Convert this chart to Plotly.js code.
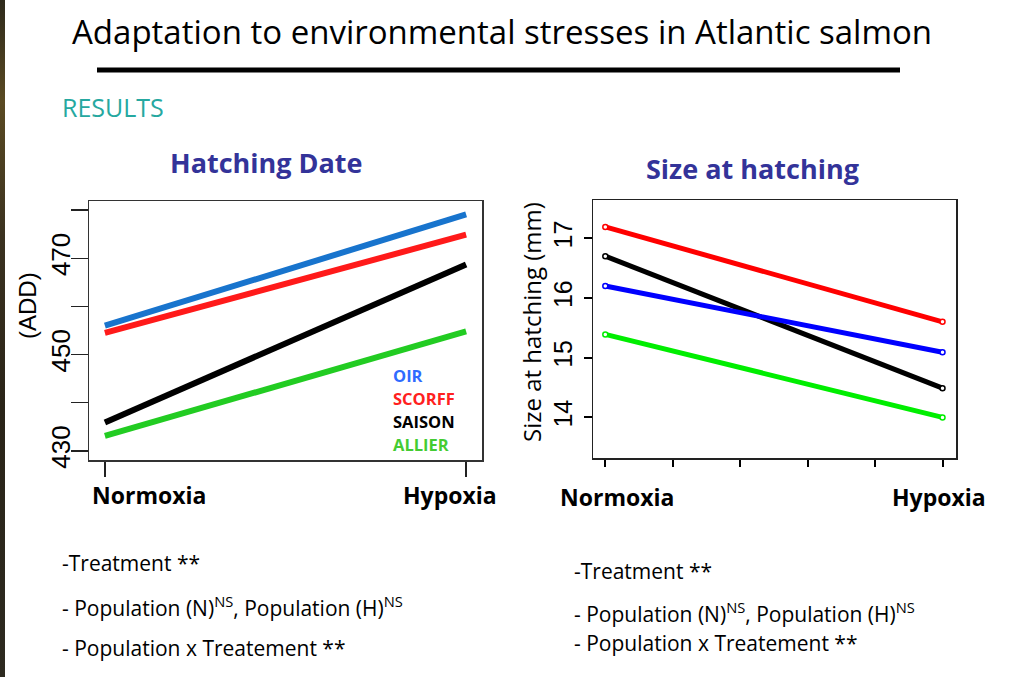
<!DOCTYPE html>
<html>
<head>
<meta charset="utf-8">
<script src="https://cdn.plot.ly/plotly-3.0.1.min.js"></script>
<style>
  html, body { margin: 0; padding: 0; background: #fff; }
  #chart { width: 1009px; height: 677px; }
  #strip { position: absolute; left: 0; top: 0; width: 5px; height: 677px;
    background: linear-gradient(to bottom, #2e2a1c 0%, #5a4a22 15%, #3b3220 35%, #2a2418 60%, #2d2a20 100%); }
</style>
</head>
<body>
<div id="chart"></div>
<div id="strip"></div>
<script>
// ---- data ----
const treatments = ['Normoxia', 'Hypoxia'];
const treatmentX = [1, 2];
const populations = ['OIR', 'SCORFF', 'SAISON', 'ALLIER'];

const hatchOIR    = [456.0, 479.1];
const hatchSCORFF = [454.5, 474.9];
const hatchSAISON = [435.9, 468.7];
const hatchALLIER = [433.1, 454.8];

const sizeSCORFF = [17.19, 15.60];
const sizeSAISON = [16.70, 14.49];
const sizeOIR    = [16.20, 15.09];
const sizeALLIER = [15.39, 14.00];

const hatchTicks = [430, 450, 470];
const hatchMinorTicks = [440, 460, 480];
const sizeTicks = [14, 15, 16, 17];

// ---- styles ----
const W = 1009, H = 677;
const px = v => v / W;
const py = v => 1 - v / H;
const comic = '"Comic Sans MS", "Open Sans", sans-serif';
const arial = 'Liberation Sans, Arial, sans-serif';

const leftColors = { OIR: '#1874cd', SCORFF: '#ff1a1a', SAISON: '#000000', ALLIER: '#22cc22' };
const legendColors = { OIR: '#2f6bff', SCORFF: '#ff2020', SAISON: '#000000', ALLIER: '#44cc33' };
const rightColors = { OIR: '#0000ff', SCORFF: '#ff0000', SAISON: '#000000', ALLIER: '#00ee00' };

const hatchData = { OIR: hatchOIR, SCORFF: hatchSCORFF, SAISON: hatchSAISON, ALLIER: hatchALLIER };
const sizeData = { OIR: sizeOIR, SCORFF: sizeSCORFF, SAISON: sizeSAISON, ALLIER: sizeALLIER };

const traces = [];
populations.forEach(p => {
  traces.push({
    x: treatmentX, y: hatchData[p], xaxis: 'x', yaxis: 'y', mode: 'lines',
    line: { color: leftColors[p], width: 6 }, name: p, showlegend: false, hoverinfo: 'skip'
  });
});
['SCORFF', 'SAISON', 'OIR', 'ALLIER'].forEach(p => {
  traces.push({
    x: treatmentX, y: sizeData[p], xaxis: 'x2', yaxis: 'y2', mode: 'lines+markers',
    line: { color: rightColors[p], width: 5 },
    marker: { symbol: 'circle', size: 5, color: '#ffffff', line: { color: rightColors[p], width: 1.5 } },
    name: p, showlegend: false, hoverinfo: 'skip'
  });
});

const annotations = [];
function ann(text, x, y, opts) {
  annotations.push(Object.assign({ text, x, y, xref: 'paper', yref: 'paper', showarrow: false,
    xanchor: 'left', yanchor: 'middle' }, opts));
}
// main title
ann('Adaptation to environmental stresses in Atlantic salmon', px(502), py(32),
  { xanchor: 'center', font: { family: comic, size: 33, color: '#000' } });
ann('RESULTS', px(60), py(107), { font: { family: comic, size: 25, color: '#26a8a0' } });
ann('<b>Hatching Date</b>', px(266), py(163), { xanchor: 'center', font: { family: comic, size: 27, color: '#333399' } });
ann('<b>Size at hatching</b>', px(752), py(168), { xanchor: 'center', font: { family: comic, size: 27, color: '#333399' } });

// axis titles
ann('(ADD)', px(27), py(306), { xanchor: 'center', textangle: -90, font: { family: arial, size: 24, color: '#000' } });
ann('Size at hatching (mm)', px(531), py(322), { xanchor: 'center', textangle: -90, font: { family: comic, size: 24, color: '#000' } });

// treatment labels
const leftShift = [44, -16], rightShift = [12, -4];
treatments.forEach((t, i) => {
  annotations.push({ text: '<b>' + t + '</b>', x: treatmentX[i], xref: 'x', y: py(495), yref: 'paper',
    xshift: leftShift[i], showarrow: false, xanchor: 'center', yanchor: 'middle',
    font: { family: comic, size: 23, color: '#000' } });
  annotations.push({ text: '<b>' + t + '</b>', x: treatmentX[i], xref: 'x2', y: py(497), yref: 'paper',
    xshift: rightShift[i], showarrow: false, xanchor: 'center', yanchor: 'middle',
    font: { family: comic, size: 23, color: '#000' } });
});

// legend text
const legendY = [375, 398, 421, 444];
populations.forEach((p, i) => {
  ann('<b>' + p + '</b>', px(391), py(legendY[i]), { font: { family: comic, size: 16.5, color: legendColors[p] } });
});

// statistics text
const statLines = ['-Treatment **', '- Population (N)<sup>NS</sup>, Population (H)<sup>NS</sup>', '- Population x Treatement **'];
const statLeftY = [563, 606, 648];
const statRightY = [571, 612, 643];
statLines.forEach((s, i) => {
  ann(s, px(60), py(statLeftY[i]), { font: { family: comic, size: 21, color: '#000' } });
  ann(s, px(572), py(statRightY[i]), { font: { family: comic, size: 21, color: '#000' } });
});

const layout = {
  width: W, height: H,
  margin: { l: 0, r: 0, t: 0, b: 0 },
  paper_bgcolor: '#ffffff', plot_bgcolor: '#ffffff',
  showlegend: false,
  xaxis: {
    domain: [px(89), px(482)], range: [0.956, 2.044], anchor: 'y',
    showgrid: false, zeroline: false, showline: true, mirror: true, linecolor: '#333', linewidth: 1.5,
    tickvals: treatmentX, showticklabels: false, ticks: 'outside', ticklen: 15, tickwidth: 1.5, tickcolor: '#222'
  },
  yaxis: {
    domain: [py(460), py(201)], range: [428.1, 481.9], anchor: 'x',
    showgrid: false, zeroline: false, showline: true, mirror: true, linecolor: '#333', linewidth: 1.5,
    tickvals: hatchTicks, ticks: 'outside', ticklen: 17, tickwidth: 1.5, tickcolor: '#222',
    minor: { tickvals: hatchMinorTicks, ticks: 'outside', ticklen: 17, tickwidth: 1.5, tickcolor: '#222', showgrid: false },
    tickangle: -90, tickfont: { family: arial, size: 26, color: '#000' }, ticklabelstandoff: -10
  },
  xaxis2: {
    domain: [px(593), px(956)], range: [0.9635, 2.04], anchor: 'y2',
    showgrid: false, zeroline: false, showline: true, mirror: true, linecolor: '#222', linewidth: 1.5,
    tick0: 1, dtick: 0.2, showticklabels: false, ticks: 'outside', ticklen: 7, tickwidth: 2, tickcolor: '#000'
  },
  yaxis2: {
    domain: [py(458), py(200)], range: [13.32, 17.64], anchor: 'x2',
    showgrid: false, zeroline: false, showline: true, mirror: true, linecolor: '#222', linewidth: 1.5,
    tickvals: sizeTicks, ticks: 'outside', ticklen: 8, tickwidth: 2, tickcolor: '#000',
    tickangle: -90, tickfont: { family: arial, size: 25, color: '#000' }, ticklabelstandoff: 2
  },
  shapes: [
    { type: 'line', xref: 'paper', yref: 'paper', x0: px(97), x1: px(900), y0: py(70), y1: py(70),
      line: { color: '#000', width: 5 } }
  ],
  annotations
};

Plotly.newPlot('chart', traces, layout, { displayModeBar: false, staticPlot: true });
</script>
</body>
</html>
